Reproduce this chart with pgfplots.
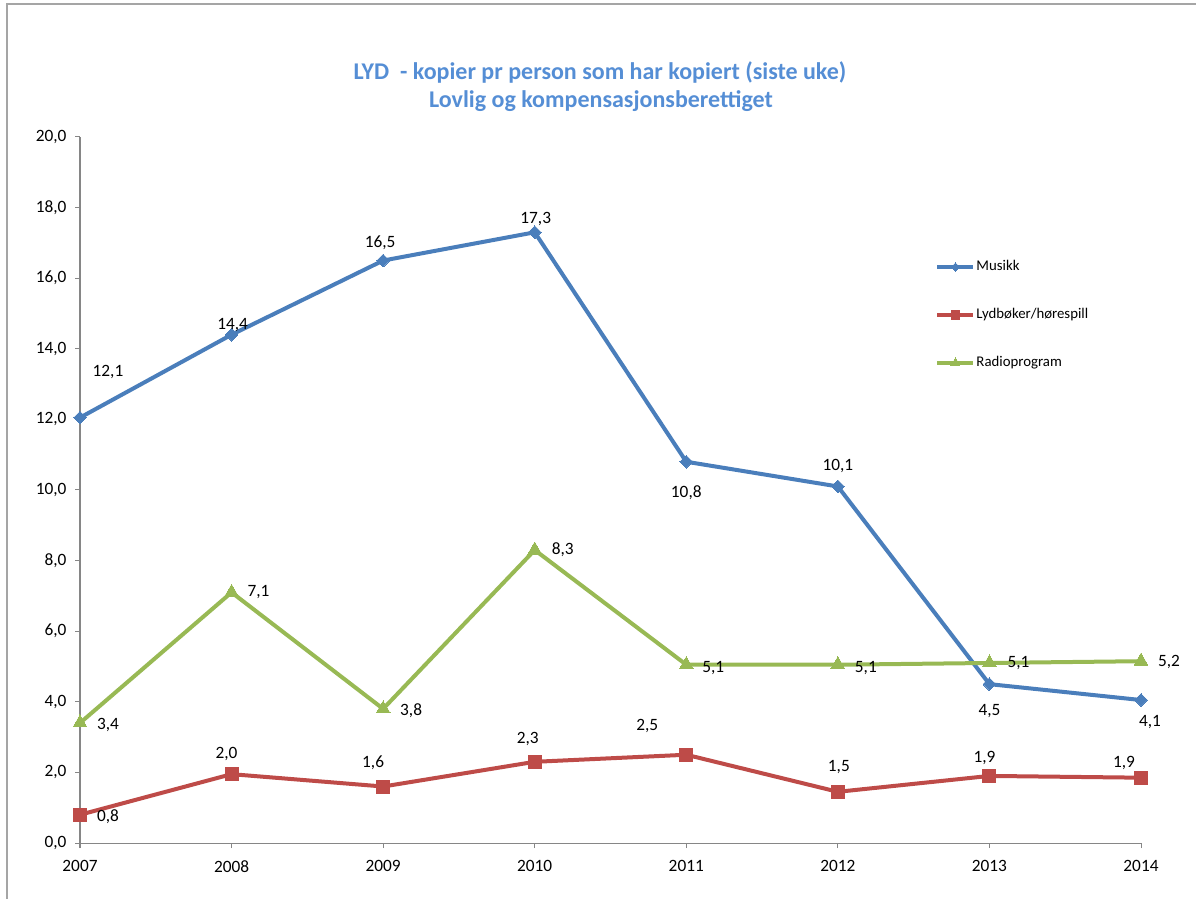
\documentclass[border=0pt]{standalone}
\usepackage{fontspec}
\setmainfont{Carlito}
\usepackage{pgfplots}
\pgfplotsset{compat=1.18}
\usepackage{pgfplotstable}
\definecolor{cmus}{RGB}{74,126,187}
\definecolor{clyd}{RGB}{190,75,72}
\definecolor{crad}{RGB}{152,185,84}
\definecolor{ctitle}{RGB}{85,142,213}
\definecolor{caxis}{RGB}{134,134,134}
\definecolor{cframe}{RGB}{165,165,165}

\pgfplotstableread{
x y lab dx dy
2007 12.05 12,1 28 46
2008 14.4 14,4 1 10
2009 16.5 16,5 -3 18
2010 17.3 17,3 1 13
2011 10.8 10,8 0 -31
2012 10.1 10,1 0 20
2013 4.5 4,5 0 -27
2014 4.05 4,1 9 -22
}\musikk

\pgfplotstableread{
x y lab dx dy
2007 0.8 0,8 28 -2
2008 1.95 2,0 -5 20
2009 1.6 1,6 -10 24
2010 2.3 2,3 -7 23
2011 2.5 2,5 -39 29
2012 1.45 1,5 1 25
2013 1.9 1,9 -5 18
2014 1.85 1,9 -17 15
}\lyd

\pgfplotstableread{
x y lab dx dy
2007 3.4 3,4 28 -2
2008 7.1 7,1 27 0
2009 3.8 3,8 28 -2
2010 8.3 8,3 28 0
2011 5.05 5,1 27 -3
2012 5.05 5,1 28 -3
2013 5.1 5,1 29 0
2014 5.15 5,2 28 -1
}\radio

\pgfplotsset{
  lbl/.style={
    nodes near coords,
    point meta=explicit symbolic,
    visualization depends on={\thisrow{dx}\as\dx},
    visualization depends on={\thisrow{dy}\as\dy},
    every node near coord/.append style={anchor=center, xshift=\dx pt, yshift=\dy pt, text=black, inner sep=0pt,
      font=\fontsize{17.3}{20}\selectfont},
  },
}

\begin{document}
\begin{tikzpicture}
\begin{axis}[
  scale only axis, width=1061pt, height=706pt,
  xmin=2007, xmax=2014, ymin=0, ymax=20,
  xtick={2007,2008,...,2014}, ytick={0,2,...,20},
  axis lines*=left,
  axis line style={caxis, line width=1pt},
  tick style={caxis, line width=1pt},
  tick align=outside, major tick length=5pt,
  clip=false,
  /pgf/number format/assume math mode=true,
  ticklabel style={font=\fontsize{17.3}{20}\selectfont, text=black},
  xticklabel style={yshift=-9pt, /pgf/number format/1000 sep={}},
  yticklabel style={xshift=-5pt, /pgf/number format/.cd, fixed, fixed zerofill, precision=1, use comma},
  legend image code/.code={
    \draw[#1, mark repeat=2, mark phase=2, every mark/.append style={scale=0.65}]
      plot coordinates {(0pt,0pt) (18pt,0pt) (36pt,0pt)};
  },
  legend style={draw=none, fill=none, inner sep=0pt, outer sep=0pt,
    at={(axis description cs:0.8063,0.7479)}, anchor=west,
    font=\fontsize{14.8}{17}\selectfont, row sep=31.5pt,
    nodes={inner sep=1pt, text height=11pt, text depth=3.5pt}},
  legend cell align=left,
]
\addplot[cmus, line width=4pt, line join=round, mark=square*, mark size=4.5pt,
  mark options={rotate=45, solid, fill=cmus, draw=cmus, line width=0pt}, lbl]
  table[x=x, y=y, meta=lab]{\musikk};
\addplot[clyd, line width=4pt, line join=round, mark=square*, mark size=6.5pt,
  mark options={solid, fill=clyd, draw=clyd, line width=0pt}, lbl]
  table[x=x, y=y, meta=lab]{\lyd};
\addplot[crad, line width=4pt, line join=round, mark=triangle*, mark size=8pt,
  mark options={solid, fill=crad, draw=crad, line width=0pt}, lbl]
  table[x=x, y=y, meta=lab]{\radio};
\legend{Musikk, Lydbøker/hørespill, Radioprogram}
\end{axis}
\node[anchor=base, font=\fontsize{24}{28}\selectfont\bfseries, text=ctitle] at (520pt,763pt)
  {LYD\ \ - kopier pr person som har kopiert (siste uke)};
\node[anchor=base, font=\fontsize{24}{28}\selectfont\bfseries, text=ctitle] at (521pt,735pt)
  {Lovlig og kompensasjonsberettiget};
\draw[cframe, line width=1.5pt] (-73pt,-60pt) -- (-73pt,839pt) -- (1120pt,839pt);
\pgfresetboundingbox
\path (-80pt,-56pt) rectangle (1116pt,843pt);
\end{tikzpicture}
\end{document}
